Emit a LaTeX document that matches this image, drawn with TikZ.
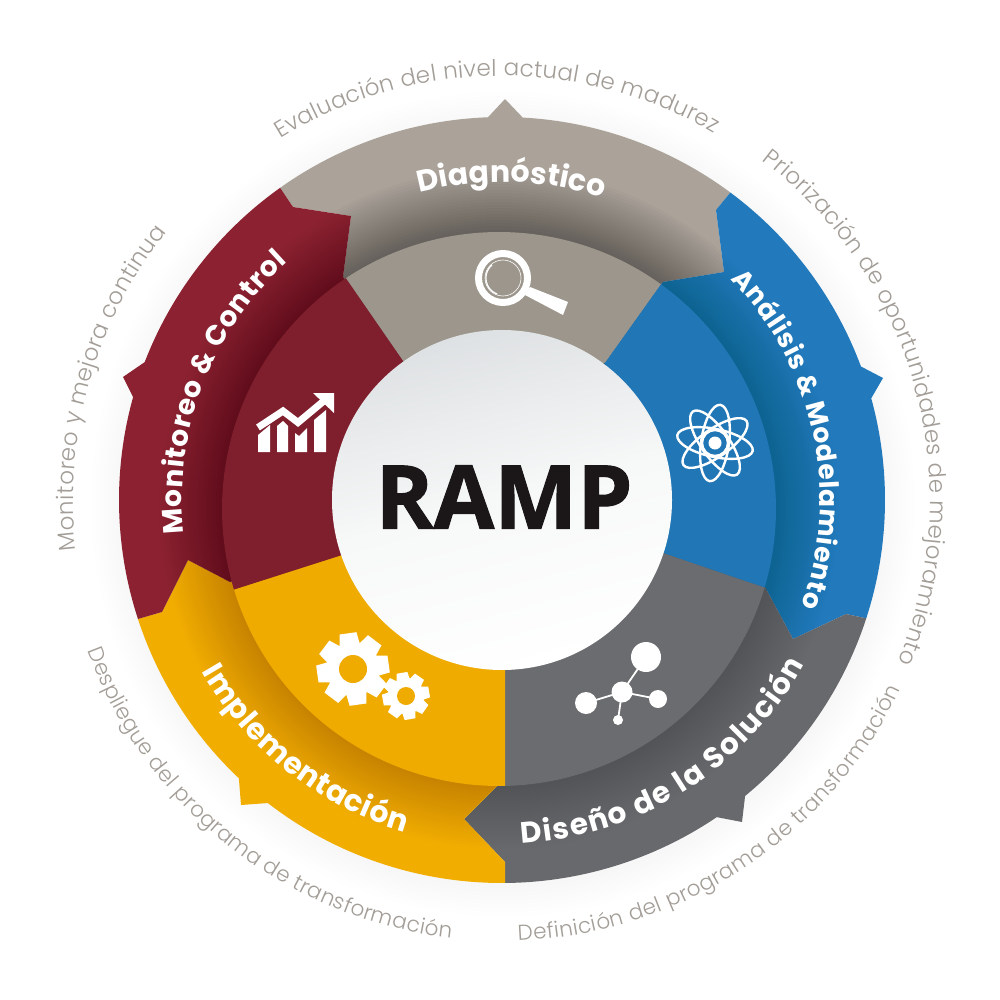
\documentclass[tikz,border=0pt]{standalone}
\usepackage{fontspec}
\usetikzlibrary{decorations.text}
\setmainfont{Poppins}
\newfontfamily\labf{Poppins}[UprightFont=* Bold]
\newfontfamily\descf{Poppins}[UprightFont=* Light]
\newfontfamily\rampf{Open Sans}[UprightFont=* Bold,FakeBold=1.2]
\definecolor{cTan}{HTML}{ABA399}
\definecolor{cTanIn}{HTML}{9C968C}
\definecolor{cBlue}{HTML}{2279BC}
\definecolor{cBlueIn}{HTML}{2176B6}
\definecolor{cGray}{HTML}{68696C}
\definecolor{cGrayIn}{HTML}{6B6C6F}
\definecolor{cGold}{HTML}{F2AE00}
\definecolor{cGoldIn}{HTML}{EFAB00}
\definecolor{cRed}{HTML}{8C2231}
\definecolor{cRedIn}{HTML}{7F1F2D}
\definecolor{cDesc}{HTML}{A39D97}
\definecolor{cInk}{HTML}{1B1718}
\definecolor{cShA}{HTML}{DEE1E3}
\definecolor{cShB}{HTML}{F7F8F8}
\newcommand\OA[2]{plot[domain=#1:#2,samples=50] ({502+383*cos(\x)},{500+383*sin(\x)})}
\newcommand\LOA[2]{-- plot[domain=#1:#2,samples=50] ({502+383*cos(\x)},{500+383*sin(\x)})}
\newcommand\LIA[2]{-- plot[domain=#1:#2,samples=50] ({499+277*cos(\x)},{509+277*sin(\x)})}
\newcommand\RA[3]{plot[domain=#2:#3,samples=70] ({502+#1*cos(\x)},{500+#1*sin(\x)})}
\def\pTan{\OA{234.6}{267.9} -- (505,99) \LOA{273.1}{306.6} -- (716,210) -- (724,272) -- (663,282) -- (499,509) -- (343,277) -- (351,216) -- (293,207) -- cycle}
\def\pBlue{\OA{306.6}{339.6} -- (883,378) \LOA{344.6}{378} -- (846,614) -- (793,639) -- (765,587) -- (499,509) -- (663,282) -- (724,272) -- (716,210) -- cycle}
\def\pGray{\OA{18}{50.6} -- (742,822) \LOA{55.9}{89.55} -- (505,862) -- (464,819) -- (497,786) -- (499,509) -- (765,587) -- (793,639) -- (846,614) -- cycle}
\def\pGold{\OA{89.55}{127.7} -- (241,805) \LOA{133.4}{161.9} -- (162,612) -- (188,560) -- (230,582) -- (499,509) -- (497,786) -- (464,819) -- (505,862) -- cycle}
\def\pRed{\OA{161.9}{195.6} -- (123,377) \LOA{201.1}{234.6} -- (293,207) -- (351,216) -- (343,277) -- (499,509) -- (230,582) -- (188,560) -- (162,612) -- cycle}
\newcommand\seg[3]{%
  \fill[#2] #1;
  \begin{scope}
    \clip #1;
    \foreach \r in {277,280,...,340}{\fill[black,opacity=#3] (499,509) circle[radius=\r];}
  \end{scope}}
\newcommand\ringtext[4]{% radius, from, to, formatted text
  \path[decorate,decoration={text along path,text align={fit to path},text={#4}}] \RA{#1}{#2}{#3};}
\newcommand\dtext[1]{|\descf\fontsize{#1}{#1}\selectfont\color{cDesc}|}
\newcommand\ltext[1]{|\labf\fontsize{#1}{#1}\selectfont\color{white}|}
\begin{document}
\begin{tikzpicture}[x=1pt,y=-1pt,line join=miter]
\useasboundingbox (0,0) rectangle (1000,1000);
\fill[white] (0,0) rectangle (1000,1000);
% soft shadow of the wheel
\foreach \r in {384,388,...,412}{\fill[black,opacity=.002] (503,504) circle[radius=\r];}
% outer arrows
\seg{\pTan}{cTan}{.018}
\seg{\pBlue}{cBlue}{.009}
\seg{\pGray}{cGray}{.009}
\seg{\pGold}{cGold}{.008}
\seg{\pRed}{cRed}{.010}
% inner sectors
\fill[cTanIn] (403,361) -- (605,363) -- (662,283) \LIA{305.8}{236.4} -- cycle;
\fill[cBlueIn] (605,363) -- (663,553) -- (763,587) \LIA{16.5}{-54.2} -- cycle;
\fill[cGrayIn] (663,553) -- (505,670) -- (505,785) \LIA{88.75}{16.5} -- cycle;
\fill[cGoldIn] (505,670) -- (342,555) -- (236,589) \LIA{163.1}{88.75} -- cycle;
\fill[cRedIn] (342,555) -- (403,361) -- (345,277) \LIA{236.4}{163.1} -- cycle;
% centre
\shade[top color=cShA,bottom color=white,middle color=cShB,shading angle=15] (502,500) circle[radius=170];
\node[font=\rampf\fontsize{88}{88}\selectfont,text=cInk,inner sep=0pt] (ramp) at (504,497) {RAMP};
% magnifier
\draw[white,line width=7] (503,278) circle[radius=24.5];
\draw[white,line width=.6] (503,278) circle[radius=18];
\draw[white,line width=1.2] plot[domain=110:230,samples=20] ({503+17*cos(\x)},{278+17*sin(\x)});
\fill[white] (530,287) -- (568,302) -- (563,315) -- (525,295) -- cycle;
% atom
\begin{scope}[shift={(715,443)}]
  \fill[white] (0,0) circle[radius=6.5];
  \draw[white,line width=2.4] (0,0) circle[radius=13];
  \foreach \a in {12,55,98,145}{\draw[white,line width=2.4,rotate=-\a] (0,0) circle[x radius=38.5,y radius=14];}
\end{scope}
% molecule
\draw[white,line width=1.8] (622,692) -- (646,657) (622,692) -- (586,703) (622,692) -- (658,699) (622,692) -- (618,720);
\fill[white] (622,692) circle[radius=10.5] (646,657) circle[radius=15] (586,703) circle[radius=11] (658,699) circle[radius=9] (618,720) circle[radius=5];
% gears
\begin{scope}[shift={(353,669)}]
  \fill[white] (0,0) circle[radius=27];
  \foreach \a in {8,53,...,323}{\fill[white,rotate=\a] (-8.5,-36) -- (8.5,-36) -- (10.5,-22) -- (-10.5,-22) -- cycle;}
  \fill[cGoldIn] (0,0) circle[radius=14];
\end{scope}
\begin{scope}[shift={(406,696)}]
  \fill[white] (0,0) circle[radius=18];
  \foreach \a in {10,55,...,325}{\fill[white,rotate=\a] (-5.5,-23.5) -- (5.5,-23.5) -- (7,-14) -- (-7,-14) -- cycle;}
  \fill[cGoldIn] (0,0) circle[radius=9];
\end{scope}
% chart
\fill[white] (258,452) -- (270,452) -- (270,425) -- (258,435) -- cycle;
\fill[white] (277,452) -- (288,452) -- (288,426) -- (283,421) -- (277,426) -- cycle;
\fill[white] (295,452) -- (307,452) -- (307,428) -- (299,436) -- (295,433) -- cycle;
\fill[white] (314,452) -- (326,452) -- (326,410) -- (314,420) -- cycle;
\draw[white,line width=7] (258,427.5) -- (283,411) -- (298,422.5) -- (325,400);
\fill[white] (313,393) -- (334,393) -- (334,413) -- cycle;
% labels
\ringtext{318}{255}{288}{\ltext{30}Diagnóstico}
\ringtext{320}{174}{228}{\ltext{28}Monitoreo {\&} Control}
\ringtext{318}{316}{379.6}{\ltext{26.5}Análisis {\&} Modelamiento}
\ringtext{346}{150.2}{106.3}{\ltext{30}Implementación}
\ringtext{344}{86.7}{28.5}{\ltext{29.5}Diseño de la Solución}
% descriptions
\ringtext{424}{238.5}{300.1}{\dtext{23}Evaluación del nivel actual de madurez}
\ringtext{428}{307.4}{382.3}{\dtext{23}Priorización de oportunidades de mejoramiento}
\ringtext{441}{87.9}{25.4}{\dtext{21.5}Definición del programa de transformación}
\ringtext{441}{160}{96.6}{\dtext{21.5}Despliegue del programa de transformación}
\ringtext{429}{173.3}{218.7}{\dtext{23}Monitoreo y mejora continua}
\end{tikzpicture}
\end{document}
